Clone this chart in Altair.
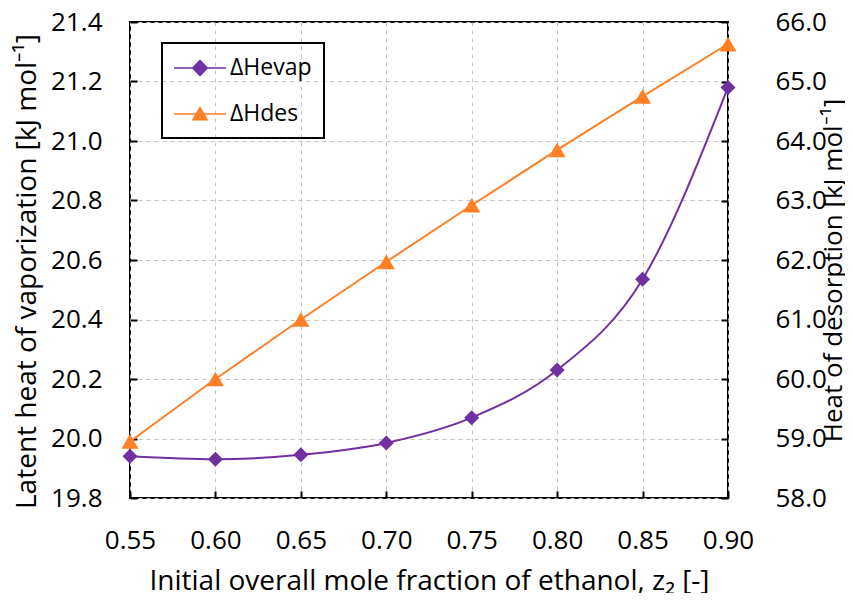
import altair as alt
import pandas as pd

# ---- data ----
z_vals = [0.55, 0.60, 0.65, 0.70, 0.75, 0.80, 0.85, 0.90]
h_evap = [19.94, 19.93, 19.945, 19.985, 20.07, 20.23, 20.535, 21.18]
h_des = [58.95, 60.0, 61.0, 61.97, 62.92, 63.85, 64.75, 65.63]
series_names = ["ΔHevap", "ΔHdes"]
series_colors = ["#7030A0", "#FF7F27"]
left_ticks = [19.8, 20.0, 20.2, 20.4, 20.6, 20.8, 21.0, 21.2, 21.4]
right_ticks = [58.0, 59.0, 60.0, 61.0, 62.0, 63.0, 64.0, 65.0, 66.0]

# legend glyphs: a line with the series marker on it
legend_paths = [
    "M-1,-0.06L3,-0.06L3,0.06L-1,0.06Z M1,-0.65L1.65,0L1,0.65L0.35,0Z",
    "M-1,-0.06L3,-0.06L3,0.06L-1,0.06Z M1,-0.62L1.65,0.5L0.35,0.5Z",
]

df_evap = pd.DataFrame({"z": z_vals, "v": h_evap, "series": series_names[0]})
df_des = pd.DataFrame({"z": z_vals, "v": h_des, "series": series_names[1]})

FONT = "Open Sans"
W, H = 598, 476
LBL = 26
GRID = "#C4C4C4"

x_enc = alt.X(
    "z:Q",
    scale=alt.Scale(domain=[0.55, 0.90], nice=False, zero=False),
    axis=alt.Axis(
        values=z_vals, format=".2f",
        title="Initial overall mole fraction of ethanol, z₂ [-]",
        offset=-7, domain=False, tickSize=7, tickWidth=2, tickColor="black",
        labelPadding=29, labelFontSize=LBL, labelFlush=False, labelOverlap=False,
        grid=True, gridDash=[4, 4], gridColor=GRID, gridWidth=1,
        titleFontSize=28, titleFontWeight="normal",
        titleBaseline="alphabetic", titleY=98,
    ),
)

y_left = alt.Y(
    "v:Q",
    scale=alt.Scale(domain=[19.8, 21.4], nice=False, zero=False),
    axis=alt.Axis(
        orient="left", values=left_ticks, format=".1f",
        title="Latent heat of vaporization [kJ mol⁻¹]",
        offset=-7, domain=False, tickSize=7, tickWidth=2, tickColor="black",
        labelPadding=28, labelFontSize=LBL, labelFlush=False, labelOverlap=False,
        grid=True, gridDash=[4, 4], gridColor=GRID, gridWidth=1,
        titleFontSize=28, titleFontWeight="normal",
        titleAngle=270, titleBaseline="alphabetic", titleAlign="center",
        titleX=-102, titleY=249,
    ),
)

y_right = alt.Y(
    "v:Q",
    scale=alt.Scale(domain=[58.0, 66.0], nice=False, zero=False),
    axis=alt.Axis(
        orient="right", values=right_ticks, format=".1f",
        title="Heat of desorption [kJ mol⁻¹]",
        offset=-7, domain=False, tickSize=7, tickWidth=2, tickColor="black",
        labelPadding=47, labelFontSize=LBL, labelFlush=False, labelOverlap=False,
        grid=False,
        titleFontSize=26, titleFontWeight="normal",
        titleAngle=270, titleBaseline="alphabetic", titleAlign="center",
        titleX=120, titleY=248,
    ),
)

leg = alt.Legend(
    title=None, orient="none", legendX=32, legendY=21,
    symbolSize=676, symbolStrokeWidth=0, symbolOpacity=1,
    labelFontSize=23, labelFont=FONT, labelOffset=30, rowPadding=21,
    padding=12, strokeColor="black",
)

evap_line = alt.Chart(df_evap).mark_line(
    color=series_colors[0], strokeWidth=2, interpolate="monotone"
).encode(x=x_enc, y=y_left)
evap_pts = alt.Chart(df_evap).mark_point(
    shape="diamond", filled=True, color=series_colors[0], size=225, opacity=1
).encode(x=x_enc, y=y_left)

legend_df = pd.concat([df_evap, df_des])
legend_layer = alt.Chart(legend_df).transform_filter("datum.z > 5").mark_point(
    filled=True, opacity=1, size=676
).encode(
    x=x_enc, y=y_left,
    color=alt.Color("series:N", scale=alt.Scale(domain=series_names, range=series_colors), legend=leg),
    shape=alt.Shape("series:N", scale=alt.Scale(domain=series_names, range=legend_paths), legend=leg),
)

des_line = alt.Chart(df_des).mark_line(
    color=series_colors[1], strokeWidth=2
).encode(x=x_enc, y=y_right)
des_pts = alt.Chart(df_des).mark_point(
    shape="triangle-up", filled=True, color=series_colors[1], size=289, opacity=1
).encode(x=x_enc, y=y_right)

left = alt.layer(evap_line, evap_pts, legend_layer)
right = alt.layer(des_line, des_pts)

chart = alt.layer(left, right).resolve_scale(y="independent").properties(
    width=W, height=H,
    padding={"left": 122, "top": 14, "right": 117, "bottom": 95},
    autosize=alt.AutoSizeParams(type="none"),
).configure_view(
    stroke="black", strokeWidth=2
).configure_axis(
    labelFont=FONT, titleFont=FONT, labelColor="black", titleColor="black"
).configure_legend(
    strokeWidth=2
)

chart.save("out.html", embed_options={"renderer": "svg", "actions": False})
